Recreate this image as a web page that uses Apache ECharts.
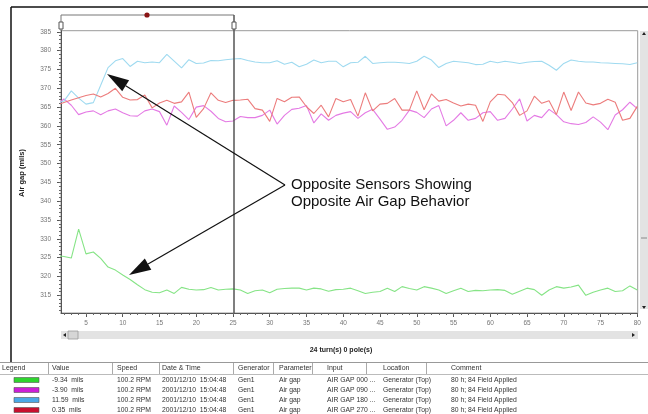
<!DOCTYPE html>
<html>
<head>
<meta charset="utf-8">
<script src="https://cdn.jsdelivr.net/npm/echarts@6/dist/echarts.min.js"></script>
<style>
  html, body { margin: 0; padding: 0; background: #fff; }
  #chart { width: 648px; height: 414px; }
</style>
</head>
<body>
<div id="chart"></div>
<script>
// turn numbers (x) and air gap readings (mils) per sensor
var turns = [1,2,3,4,5,6,7,8,9,10,11,12,13,14,15,16,17,18,19,20,
  21,22,23,24,25,26,27,28,29,30,31,32,33,34,35,36,37,38,39,40,
  41,42,43,44,45,46,47,48,49,50,51,52,53,54,55,56,57,58,59,60,
  61,62,63,64,65,66,67,68,69,70,71,72,73,74,75,76,77,78,79,80];

var gap000 = [325.6,325.3,324.9,332.6,326.0,326.5,324.8,322.5,321.7,320.4,
  319.2,317.8,316.5,315.8,315.7,316.4,315.5,317.1,316.6,316.4,
  316.5,317.1,316.4,316.6,316.7,316.4,315.5,316.2,316.4,315.7,
  316.6,316.8,316.9,316.9,316.4,316.9,316.7,316.1,316.5,316.6,
  316.9,316.2,315.5,315.8,316.0,316.9,316.0,317.3,316.8,316.4,
  317.3,316.9,316.4,315.5,316.2,316.9,316.0,316.3,316.2,316.4,
  316.5,316.3,315.3,316.1,316.9,316.5,315.0,316.4,317.3,316.9,
  317.2,317.7,315.0,315.8,316.4,316.9,316.0,316.2,317.5,316.4];

var gap090 = [365.5,367.2,365.5,363.0,363.7,364.0,363.0,364.0,364.5,363.5,
  362.7,362.6,364.0,364.5,363.8,360.2,365.3,363.6,361.7,365.0,
  365.4,363.9,362.0,361.1,361.3,362.5,362.2,362.2,362.8,364.2,
  360.5,362.8,364.4,364.7,365.4,360.8,363.2,361.5,362.8,363.4,
  363.8,362.0,363.5,364.4,361.8,359.1,359.7,361.5,364.2,363.6,
  362.2,364.5,365.4,360.0,361.5,363.5,361.5,362.0,363.5,363.8,
  361.5,362.0,364.5,367.2,361.3,362.8,362.2,364.4,363.0,361.1,
  360.6,360.4,360.9,362.4,361.0,359.0,362.9,364.3,366.3,364.6];

var gap180 = [366.0,366.6,369.3,367.4,365.8,366.2,370.8,375.5,377.3,377.9,
  375.8,377.2,376.8,377.0,376.8,379.0,377.2,375.4,377.6,376.6,
  376.7,377.4,377.3,377.6,377.8,377.9,377.4,377.0,376.8,376.8,
  377.3,376.4,376.9,375.7,376.4,377.5,376.8,377.2,377.2,375.7,
  376.8,376.9,378.5,376.6,376.8,376.9,376.9,376.8,376.6,377.2,
  378.5,377.5,375.5,376.6,377.2,377.0,376.8,376.3,376.4,377.2,
  376.8,377.2,376.9,376.6,376.9,377.1,377.2,376.1,374.8,376.6,
  377.5,377.2,377.0,377.0,376.8,376.7,376.6,376.5,376.3,376.8];

var gap270 = [365.5,366.2,366.9,367.5,368.1,368.5,367.7,368.6,370.0,367.6,
  366.9,367.0,368.2,364.8,366.1,366.8,366.0,366.4,369.0,362.3,
  364.6,368.8,366.8,366.2,366.8,366.9,367.1,364.6,364.2,361.2,
  367.3,366.4,367.6,367.7,365.1,363.3,365.5,362.4,367.3,366.4,
  367.0,362.6,368.8,364.0,365.8,366.0,367.3,364.2,364.2,369.3,
  364.3,368.5,366.6,367.0,366.1,365.3,365.8,365.5,361.2,366.4,
  368.4,368.2,366.2,362.8,364.0,367.9,366.0,366.7,363.0,369.0,
  364.1,369.0,366.1,365.6,366.0,367.1,366.3,361.5,362.0,365.2];

var xTickLabels = [5,10,15,20,25,30,35,40,45,50,55,60,65,70,75,80];
var yTickLabels = [315,320,325,330,335,340,345,350,355,360,365,370,375,380,385];

var seriesNames = ['AIR GAP 000', 'AIR GAP 090', 'AIR GAP 180', 'AIR GAP 270'];
var seriesColors = ['#86e486', '#e47ae4', '#9fdaf0', '#ec7c7c'];
var swatchColors = ['#2ed42e', '#cc1fd6', '#4aa9e6', '#c8102e'];

// table rows under the plot
var tableHeader = ['Legend', 'Value', 'Speed', 'Date & Time', 'Generator', 'Parameter', 'Input', 'Location', 'Comment'];
var tableValues = ['-9.34  mils', '-3.90  mils', '11.59  mils', '0.35  mils'];
var tableInputs = ['AIR GAP 000 ...', 'AIR GAP 090 ...', 'AIR GAP 180 ...', 'AIR GAP 270 ...'];

var colX = [14, 52, 117, 162, 238, 279, 327, 383, 451];
var sepX = [48, 112, 159, 233, 273, 312, 366, 426];

var chart = echarts.init(document.getElementById('chart'), null, {renderer: 'canvas'});

function pairs(ys) {
  return turns.map(function (t, i) { return [t, ys[i]]; });
}

var minorX = [], minorY = [];
for (var i = 2; i <= 80; i++) minorX.push(i);
for (var j = 311; j <= 385; j++) minorY.push(j);

var font = '"Liberation Sans", Arial, sans-serif';
var g = [];

// outer frame
g.push({type: 'line', shape: {x1: 11, y1: 7, x2: 648, y2: 7}, style: {stroke: '#111', lineWidth: 1.5}});
g.push({type: 'line', shape: {x1: 11, y1: 7, x2: 11, y2: 362}, style: {stroke: '#111', lineWidth: 1.5}});

// cursor bar on top
g.push({type: 'line', shape: {x1: 61, y1: 15, x2: 234, y2: 15}, style: {stroke: '#777', lineWidth: 1}});
g.push({type: 'line', shape: {x1: 61, y1: 15, x2: 61, y2: 31}, style: {stroke: '#777', lineWidth: 1}});
g.push({type: 'line', shape: {x1: 234, y1: 15, x2: 234, y2: 313}, style: {stroke: '#555', lineWidth: 1.5}, z: 20});
g.push({type: 'rect', shape: {x: 59, y: 22, width: 4, height: 7}, style: {fill: '#fff', stroke: '#555', lineWidth: 1}, z: 21});
g.push({type: 'rect', shape: {x: 232, y: 22, width: 4, height: 7}, style: {fill: '#fff', stroke: '#555', lineWidth: 1}, z: 21});
g.push({type: 'circle', shape: {cx: 147, cy: 15, r: 2.6}, style: {fill: '#8a1414'}});

// horizontal scrollbar
g.push({type: 'rect', shape: {x: 61, y: 331, width: 577, height: 8}, style: {fill: '#e3e3e3'}});
g.push({type: 'polygon', shape: {points: [[63, 335], [66, 333], [66, 337]]}, style: {fill: '#222'}});
g.push({type: 'rect', shape: {x: 68, y: 331, width: 10, height: 8}, style: {fill: '#d6d6d6', stroke: '#999', lineWidth: 0.8}});
g.push({type: 'polygon', shape: {points: [[635, 335], [632, 333], [632, 337]]}, style: {fill: '#222'}});

// vertical scrollbar
g.push({type: 'rect', shape: {x: 640, y: 31, width: 8, height: 278}, style: {fill: '#e3e3e3'}});
g.push({type: 'polygon', shape: {points: [[644, 32], [642, 35], [646, 35]]}, style: {fill: '#222'}});
g.push({type: 'polygon', shape: {points: [[644, 309], [642, 306], [646, 306]]}, style: {fill: '#222'}});
g.push({type: 'line', shape: {x1: 641, y1: 238, x2: 647, y2: 238}, style: {stroke: '#888', lineWidth: 1}});

// axis title and footer
g.push({type: 'text', x: 22, y: 173, rotation: Math.PI / 2,
  style: {text: 'Air gap (mils)', font: 'bold 7.5px ' + font, fill: '#222', align: 'center', verticalAlign: 'middle'}});
g.push({type: 'text', x: 341, y: 350,
  style: {text: '24 turn(s) 0 pole(s)', font: 'bold 7px ' + font, fill: '#222', align: 'center', verticalAlign: 'middle'}});

// annotation
g.push({type: 'text', x: 291, y: 185,
  style: {text: 'Opposite Sensors Showing', font: '15px ' + font, fill: '#111', align: 'left', verticalAlign: 'middle'}, z: 30});
g.push({type: 'text', x: 291, y: 202,
  style: {text: 'Opposite Air Gap Behavior', font: '15px ' + font, fill: '#111', align: 'left', verticalAlign: 'middle'}, z: 30});

function arrow(fromX, fromY, tipX, tipY) {
  var dx = tipX - fromX, dy = tipY - fromY;
  var len = Math.sqrt(dx * dx + dy * dy);
  var ux = dx / len, uy = dy / len;
  var headLen = 22, halfW = 6.5;
  var bx = tipX - ux * headLen, by = tipY - uy * headLen;
  g.push({type: 'line', shape: {x1: fromX, y1: fromY, x2: bx, y2: by}, style: {stroke: '#111', lineWidth: 1.2}, z: 30});
  g.push({type: 'polygon', z: 30, shape: {points: [
    [tipX, tipY],
    [bx - uy * halfW, by + ux * halfW],
    [bx + uy * halfW, by - ux * halfW]
  ]}, style: {fill: '#111'}});
}
arrow(285, 185, 107, 74);
arrow(285, 185, 129, 275);

// table
g.push({type: 'line', shape: {x1: 0, y1: 362.5, x2: 648, y2: 362.5}, style: {stroke: '#999', lineWidth: 1}});
g.push({type: 'line', shape: {x1: 0, y1: 374.5, x2: 648, y2: 374.5}, style: {stroke: '#bbb', lineWidth: 1}});
sepX.forEach(function (x) {
  g.push({type: 'line', shape: {x1: x + 0.5, y1: 363, x2: x + 0.5, y2: 374}, style: {stroke: '#aaa', lineWidth: 1}});
});
tableHeader.forEach(function (h, k) {
  g.push({type: 'text', x: colX[k] - (k === 0 ? 12 : 0), y: 368.5,
    style: {text: h, font: '7px ' + font, fill: '#333', verticalAlign: 'middle'}});
});
tableValues.forEach(function (v, r) {
  var y = 380 + r * 10;
  var cells = [null, v, '100.2 RPM', '2001/12/10  15:04:48', 'Gen1', 'Air gap', tableInputs[r], 'Generator (Top)', '80 h; 84 Field Applied'];
  g.push({type: 'rect', shape: {x: 14, y: y - 2.5, width: 25, height: 5}, style: {fill: swatchColors[r], stroke: '#555', lineWidth: 0.6}});
  cells.forEach(function (c, k) {
    if (c === null) return;
    g.push({type: 'text', x: colX[k], y: y,
      style: {text: c, font: '6.8px ' + font, fill: '#333', verticalAlign: 'middle'}});
  });
});

var axisLabelStyle = {fontSize: 6.5, color: '#777', fontFamily: font};

var option = {
  animation: false,
  backgroundColor: '#fff',
  grid: {left: 61, right: 10.3, top: 30.7, bottom: 101, show: true, borderColor: '#9a9a9a', borderWidth: 1},
  xAxis: [{
    type: 'value', min: 1.6, max: 80.06,
    axisLine: {lineStyle: {color: '#555'}},
    axisTick: {customValues: xTickLabels, length: 4, lineStyle: {color: '#555'}},
    axisLabel: Object.assign({customValues: xTickLabels, margin: 7}, axisLabelStyle),
    splitLine: {show: false}
  }, {
    type: 'value', min: 1.6, max: 80.06, position: 'bottom',
    axisLine: {show: false},
    axisTick: {customValues: minorX, length: 2, lineStyle: {color: '#666'}},
    axisLabel: {show: false},
    splitLine: {show: false}
  }],
  yAxis: [{
    type: 'value', min: 310.3, max: 385.3,
    axisLine: {show: true, lineStyle: {color: '#555'}},
    axisTick: {show: true, customValues: yTickLabels, length: 4, lineStyle: {color: '#555'}},
    axisLabel: Object.assign({customValues: yTickLabels, margin: 10}, axisLabelStyle),
    splitLine: {show: false}
  }, {
    type: 'value', min: 310.3, max: 385.3, position: 'left',
    axisLine: {show: false},
    axisTick: {show: true, customValues: minorY, length: 2, lineStyle: {color: '#666'}},
    axisLabel: {show: false},
    splitLine: {show: false}
  }],
  series: [gap000, gap090, gap180, gap270].map(function (d, k) {
    return {
      name: seriesNames[k], type: 'line', data: pairs(d),
      symbol: 'none', clip: true,
      lineStyle: {color: seriesColors[k], width: 1.1},
      itemStyle: {color: seriesColors[k]}
    };
  }),
  graphic: {elements: g}
};
chart.setOption(option);
</script>
</body>
</html>
